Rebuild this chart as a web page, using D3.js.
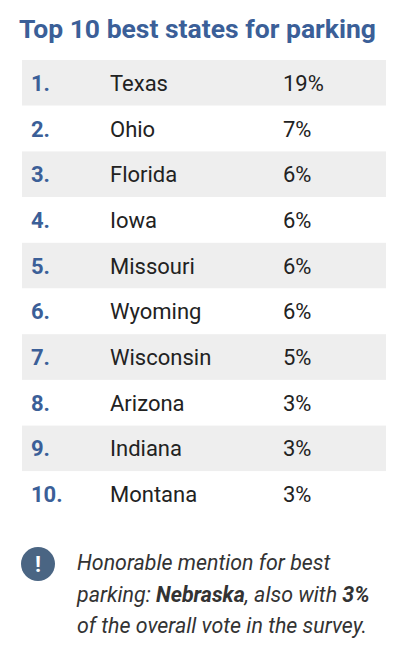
<!DOCTYPE html>
<html><head><meta charset="utf-8">
<script src="https://cdn.jsdelivr.net/npm/d3@7"></script>
<style>body{margin:0;background:#fff}</style>
</head><body><svg id="chart" width="400" height="670"></svg>
<script>
const ranks = ["1.", "2.", "3.", "4.", "5.", "6.", "7.", "8.", "9.", "10."];
const states = ["Texas", "Ohio", "Florida", "Iowa", "Missouri", "Wyoming", "Wisconsin", "Arizona", "Indiana", "Montana"];
const shares = [19, 7, 6, 6, 6, 6, 5, 3, 3, 3];

var svg = d3.select("#chart");
var font = "Roboto, 'Noto Sans', sans-serif";

svg.append("text")
    .attr("x", 19).attr("y", 38)
    .attr("font-family", font).attr("font-weight", "bold")
    .attr("font-size", "26.5px").attr("fill", "#3b5f98")
    .text("Top 10 best states for parking");

var y = d3.scaleBand().domain(states).range([60, 517]);

var row = svg.selectAll(".row").data(states).enter().append("g")
    .attr("class", "row")
    .attr("transform", function (d) { return "translate(0," + y(d) + ")"; });

row.append("rect")
    .attr("x", 22).attr("width", 364).attr("height", y.bandwidth())
    .attr("fill", function (d, i) { return i % 2 === 0 ? "#eeeeee" : "#fff"; });

var mid = y.bandwidth() / 2 + 8;
row.append("text").attr("x", 31).attr("y", mid)
    .attr("font-family", font).attr("font-weight", "bold").attr("font-size", "22px")
    .attr("fill", "#3b5f98").text(function (d, i) { return ranks[i]; });
row.append("text").attr("x", 110).attr("y", mid)
    .attr("font-family", font).attr("font-size", "22px")
    .attr("fill", "#222").text(function (d) { return d; });
row.append("text").attr("x", 283).attr("y", mid)
    .attr("font-family", font).attr("font-size", "22px")
    .attr("fill", "#222").text(function (d, i) { return shares[i] + "%"; });

// note
svg.append("circle").attr("cx", 38).attr("cy", 564).attr("r", 17).attr("fill", "#4a6583");
svg.append("text").attr("x", 38).attr("y", 572).attr("text-anchor", "middle")
    .attr("font-family", font).attr("font-weight", "bold").attr("font-size", "22px")
    .attr("fill", "#fff").text("!");

var note = svg.append("text").attr("font-family", font).attr("font-style", "italic")
    .attr("font-size", "21.4px").attr("fill", "#333");
note.append("tspan").attr("x", 77).attr("y", 570).text("Honorable mention for best");
var l2 = note.append("tspan").attr("x", 77).attr("y", 602);
l2.text("parking: ");
note.append("tspan").attr("font-weight", "bold").text("Nebraska");
note.append("tspan").text(", also with ");
note.append("tspan").attr("font-weight", "bold").text("3%");
note.append("tspan").attr("x", 77).attr("y", 633).text("of the overall vote in the survey.");
</script></body></html>
